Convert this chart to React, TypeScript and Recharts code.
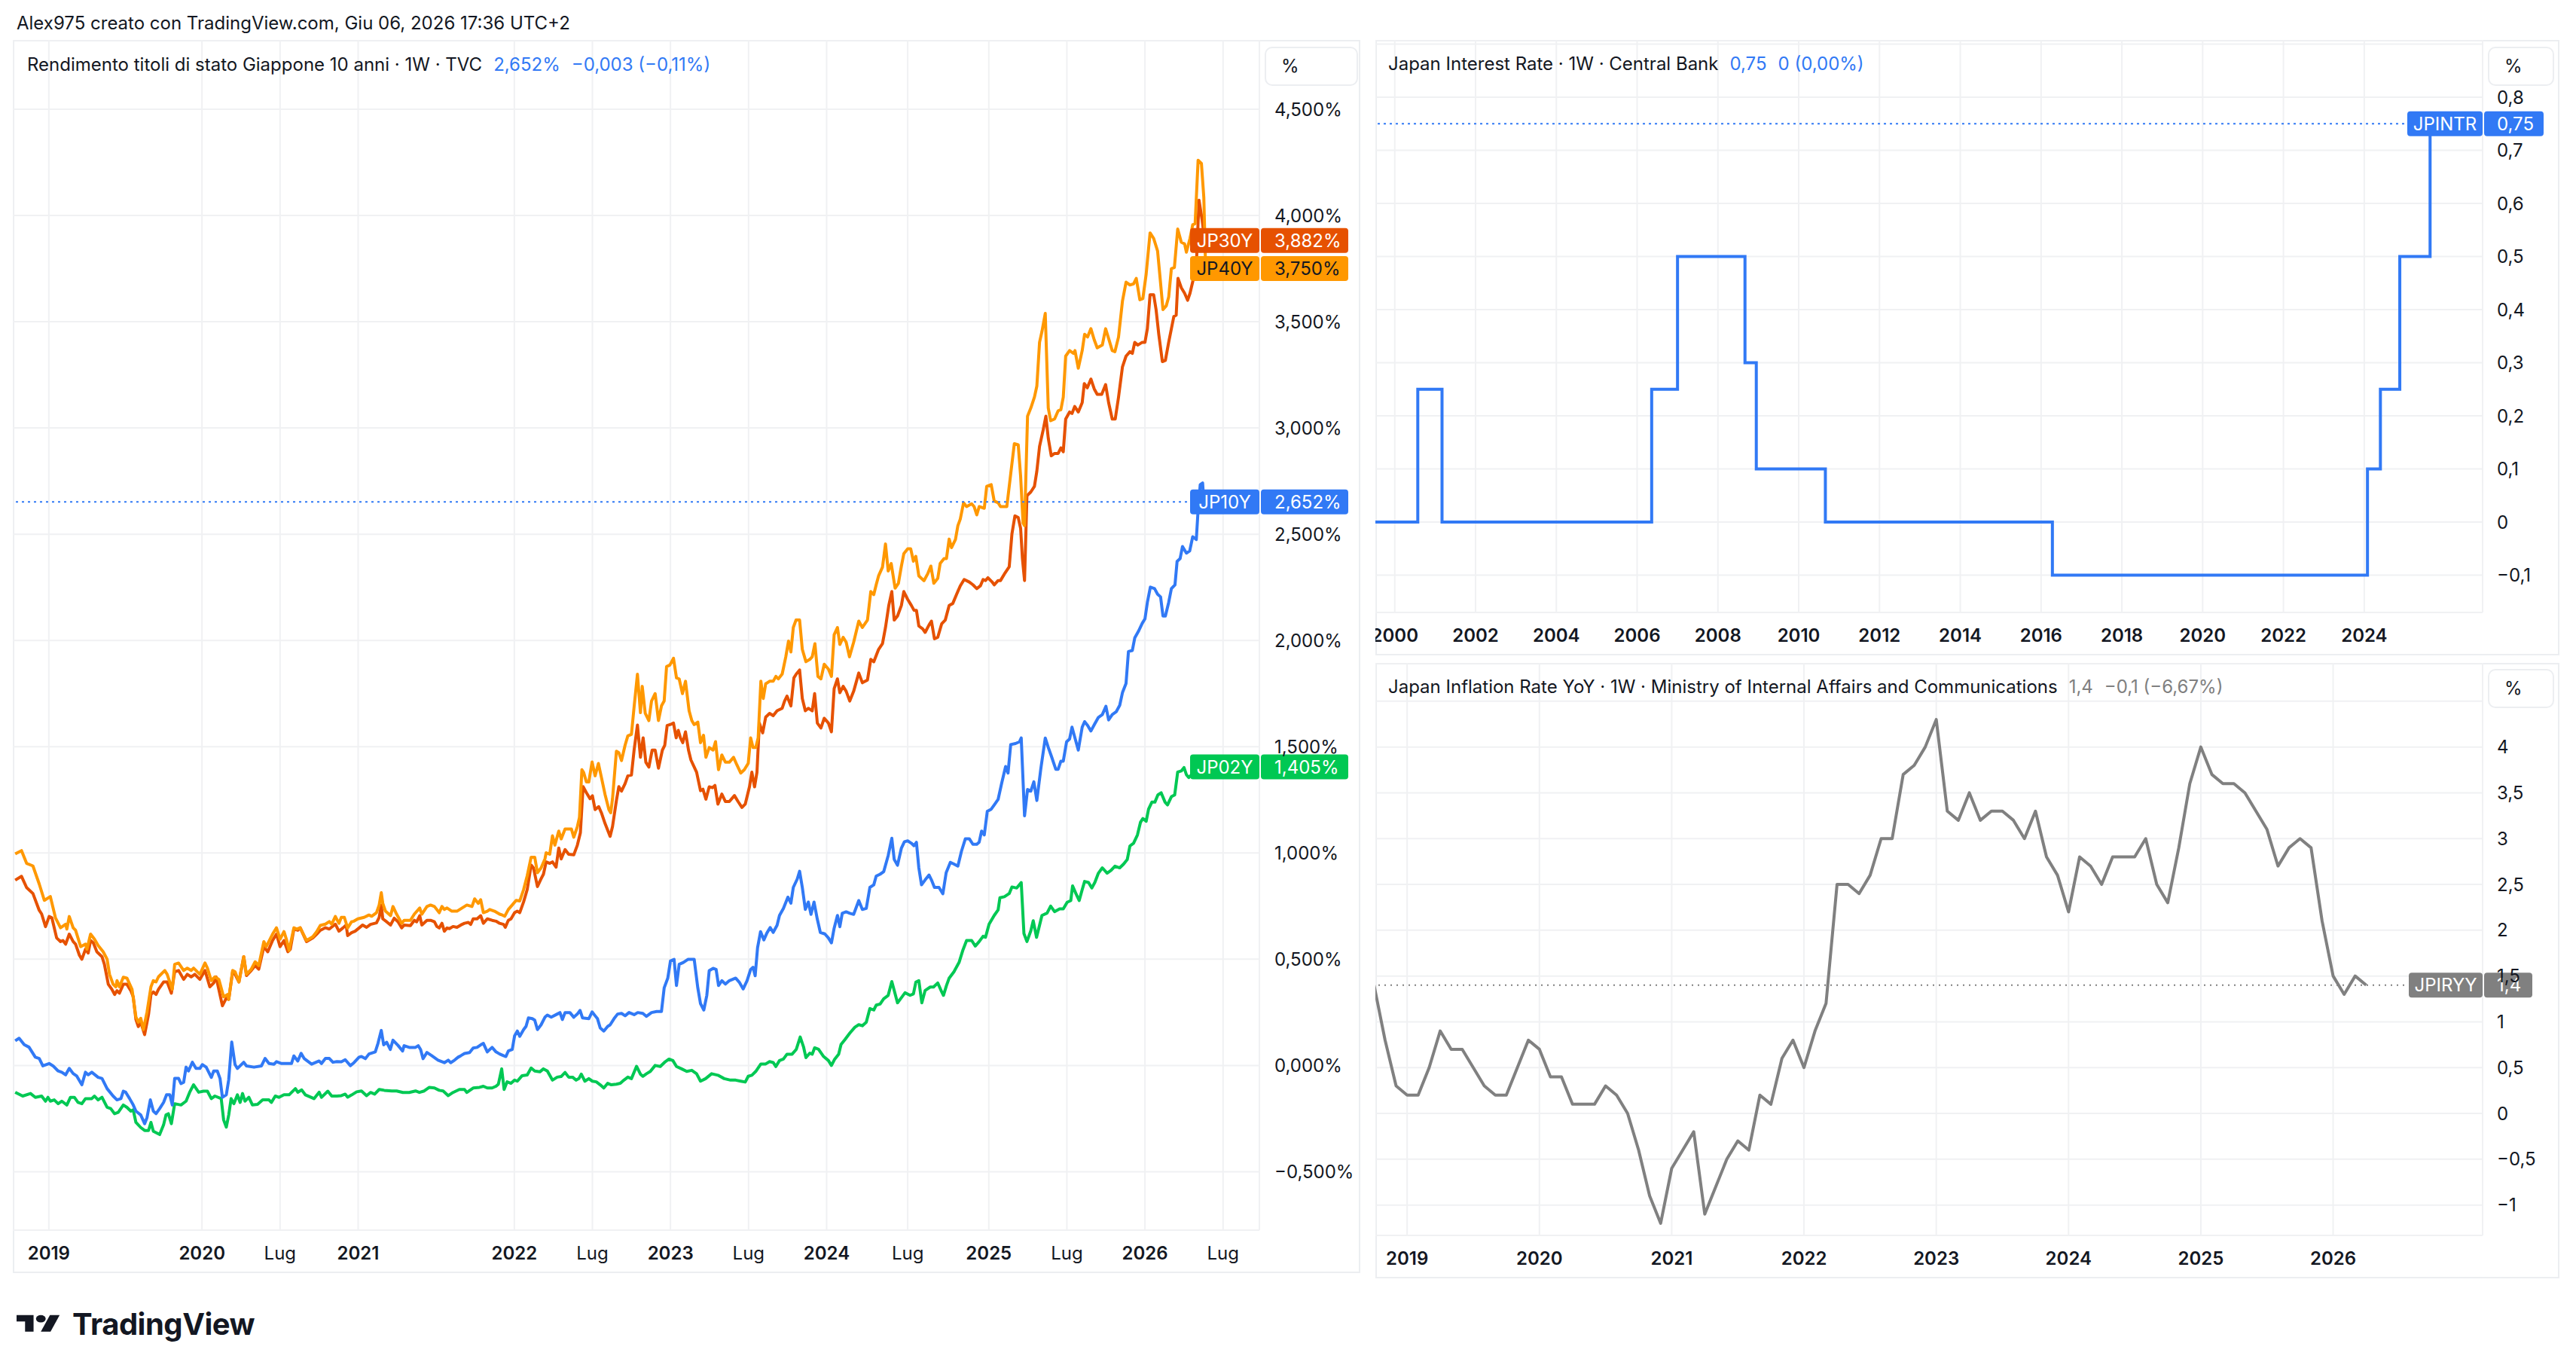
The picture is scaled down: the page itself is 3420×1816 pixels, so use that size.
import React from "react";
import { LineChart, Line, XAxis, YAxis, CartesianGrid, ReferenceLine } from "recharts";

const FONT = "Inter, 'Noto Sans', Roboto, sans-serif";
const TEXT = "#131722";
const GRID = "#f0f1f3";
const BORDER = "#eceef1";

const ORANGE = "#ff9800";
const RED = "#e65100";
const BLUE = "#3179f5";
const GREEN = "#00c853";
const GREY = "#808080";

// ---------- left pane: JGB yields, x = weekly bar index (0 = week of 8 Oct 2018)
const jp40Points: [number, number][] = [
  [0.8, 0.996], [2.9, 1.011], [4.6, 0.951], [6.7, 0.939], [8.8, 0.854], [10.5, 0.777], [12.5, 0.795], [14.2, 0.695],
  [15.9, 0.648], [17.6, 0.665], [18.0, 0.642], [18.8, 0.701], [20.1, 0.648], [20.9, 0.636], [22.6, 0.559], [24.2, 0.571],
  [24.7, 0.547], [25.9, 0.618], [27.2, 0.594], [28.4, 0.565], [30.1, 0.535], [31.4, 0.5], [32.2, 0.429], [33.4, 0.382],
  [34.3, 0.37], [34.7, 0.399], [35.5, 0.37], [36.8, 0.415], [38.0, 0.411], [39.7, 0.358], [41.0, 0.228], [41.8, 0.204],
  [42.6, 0.222], [43.5, 0.169], [44.7, 0.252], [46.0, 0.37], [46.8, 0.399], [47.7, 0.393], [48.5, 0.417], [50.6, 0.447],
  [51.4, 0.429], [53.1, 0.358], [53.9, 0.476], [55.2, 0.482], [56.9, 0.447], [58.1, 0.458], [59.4, 0.447], [60.2, 0.458],
  [62.3, 0.429], [64.0, 0.482], [64.8, 0.458], [66.1, 0.399], [67.3, 0.417], [68.6, 0.405], [70.2, 0.323], [71.5, 0.334],
  [71.9, 0.311], [73.2, 0.447], [74.0, 0.441], [75.3, 0.393], [76.9, 0.512], [77.8, 0.429], [79.4, 0.453], [80.7, 0.488],
  [81.9, 0.47], [83.6, 0.583], [84.4, 0.559], [86.5, 0.618], [87.8, 0.648], [89.0, 0.594], [90.3, 0.63], [91.1, 0.594],
  [92.0, 0.541], [93.6, 0.648], [94.5, 0.642], [95.7, 0.648], [97.8, 0.588], [99.9, 0.606], [101.2, 0.63], [102.4, 0.659],
  [104.1, 0.665], [105.4, 0.677], [106.2, 0.665], [107.4, 0.701], [108.6, 0.669], [109.4, 0.697], [110.4, 0.697], [111.5, 0.647],
  [112.8, 0.676], [113.6, 0.679], [114.9, 0.69], [117.0, 0.697], [118.6, 0.708], [119.5, 0.702], [121.1, 0.719], [122.0, 0.755],
  [122.7, 0.813], [123.2, 0.763], [124.1, 0.726], [125.8, 0.705], [126.6, 0.748], [127.8, 0.712], [129.5, 0.669], [130.3, 0.683],
  [132.4, 0.683], [133.7, 0.712], [135.5, 0.741], [136.2, 0.712], [137.9, 0.748], [139.1, 0.755], [140.4, 0.748], [142.0, 0.719],
  [142.9, 0.748], [143.7, 0.734], [144.6, 0.741], [146.2, 0.726], [147.9, 0.726], [149.6, 0.741], [151.2, 0.755], [152.9, 0.748],
  [153.8, 0.784], [155.0, 0.763], [155.8, 0.78], [156.7, 0.719], [158.0, 0.726], [158.8, 0.734], [160.4, 0.726], [162.1, 0.712],
  [163.0, 0.708], [163.8, 0.702], [165.0, 0.734], [166.3, 0.755], [167.6, 0.777], [168.8, 0.774], [170.1, 0.828], [171.3, 0.893],
  [172.6, 0.98], [173.8, 0.98], [174.7, 0.907], [175.9, 0.929], [177.2, 0.972], [177.6, 1.001], [178.8, 0.994], [179.7, 1.081],
  [180.5, 1.037], [181.8, 1.103], [182.6, 1.066], [183.9, 1.113], [186.0, 1.113], [186.8, 1.074], [188.0, 1.124], [188.7, 1.168],
  [189.5, 1.392], [190.1, 1.378], [191.0, 1.334], [191.8, 1.334], [192.9, 1.428], [193.9, 1.363], [195.0, 1.421], [196.0, 1.356],
  [197.2, 1.276], [198.5, 1.204], [199.1, 1.189], [199.7, 1.255], [201.0, 1.479], [201.8, 1.472], [202.7, 1.435], [203.9, 1.508],
  [204.8, 1.551], [206.0, 1.558], [206.9, 1.689], [208.0, 1.841], [209.0, 1.66], [209.6, 1.784], [210.6, 1.657], [211.8, 1.623],
  [212.7, 1.715], [213.9, 1.75], [215.0, 1.623], [216.0, 1.692], [216.9, 1.715], [217.7, 1.877], [218.8, 1.884], [220.0, 1.916],
  [221.0, 1.824], [221.9, 1.819], [223.0, 1.75], [224.0, 1.808], [225.2, 1.669], [226.1, 1.623], [226.9, 1.604], [228.1, 1.616],
  [229.0, 1.519], [230.0, 1.554], [230.8, 1.45], [231.9, 1.496], [233.2, 1.484], [234.0, 1.524], [235.0, 1.392], [236.1, 1.461],
  [237.3, 1.427], [238.6, 1.427], [240.0, 1.45], [241.1, 1.415], [242.4, 1.376], [243.6, 1.392], [244.9, 1.422], [245.7, 1.542],
  [246.5, 1.496], [247.4, 1.496], [248.2, 1.542], [249.1, 1.808], [249.9, 1.727], [250.7, 1.796], [252.0, 1.808], [253.2, 1.808],
  [254.1, 1.831], [254.9, 1.819], [256.2, 1.842], [257.4, 1.923], [258.3, 1.997], [259.1, 1.946], [259.9, 2.061], [260.8, 2.096],
  [262.0, 2.096], [262.9, 1.958], [264.1, 1.9], [265.4, 1.911], [266.2, 1.923], [267.1, 1.985], [268.1, 1.831], [269.1, 1.819],
  [270.2, 1.888], [271.6, 1.865], [272.6, 1.831], [273.5, 2.027], [274.6, 2.061], [275.4, 1.981], [276.5, 2.015], [277.5, 1.992],
  [278.6, 1.923], [280.0, 1.992], [281.7, 2.091], [282.9, 2.061], [284.6, 2.096], [285.7, 2.23], [286.7, 2.216], [287.5, 2.262],
  [288.3, 2.304], [289.6, 2.345], [290.6, 2.454], [291.5, 2.327], [292.5, 2.362], [293.8, 2.246], [294.9, 2.269], [295.9, 2.35],
  [296.7, 2.408], [298.0, 2.431], [299.0, 2.431], [299.9, 2.373], [300.7, 2.396], [301.7, 2.304], [303.4, 2.281], [304.7, 2.315],
  [305.7, 2.35], [306.7, 2.269], [308.0, 2.292], [308.8, 2.362], [310.1, 2.385], [310.9, 2.385], [311.8, 2.477], [312.6, 2.437],
  [313.9, 2.475], [314.7, 2.54], [315.5, 2.571], [316.6, 2.648], [317.6, 2.63], [319.3, 2.643], [320.1, 2.63], [321.0, 2.591],
  [321.8, 2.63], [323.5, 2.622], [324.3, 2.725], [325.8, 2.733], [326.8, 2.656], [328.1, 2.648], [328.9, 2.63], [331.0, 2.63],
  [332.3, 2.784], [333.5, 2.926], [334.8, 2.921], [335.6, 2.772], [336.4, 2.553], [336.9, 2.54], [337.9, 3.055], [339.0, 3.094],
  [340.2, 3.145], [341.0, 3.197], [341.9, 3.403], [342.7, 3.454], [343.8, 3.539], [344.8, 3.094], [345.6, 3.034], [346.9, 3.042],
  [348.1, 3.081], [349.0, 3.086], [349.8, 3.145], [350.6, 3.338], [351.9, 3.364], [353.2, 3.351], [353.7, 3.364], [354.8, 3.281],
  [356.1, 3.364], [356.9, 3.441], [357.9, 3.428], [359.0, 3.467], [360.1, 3.415], [361.1, 3.377], [362.8, 3.39], [363.9, 3.467],
  [364.9, 3.421], [366.1, 3.364], [367.0, 3.359], [368.2, 3.428], [369.5, 3.596], [370.7, 3.686], [372.0, 3.673], [373.2, 3.678],
  [374.1, 3.704], [375.3, 3.603], [376.3, 3.609], [377.4, 3.724], [378.7, 3.918], [379.9, 3.892], [381.2, 3.833], [382.0, 3.712],
  [383.0, 3.557], [384.1, 3.575], [384.9, 3.616], [385.8, 3.75], [386.8, 3.755], [387.9, 3.936], [389.1, 3.874], [390.2, 3.866],
  [390.8, 3.827], [392.0, 3.892], [392.9, 3.956], [393.7, 3.961], [394.7, 4.26], [395.8, 4.245], [396.6, 4.085], [397.2, 3.75],
];

const jp30Points: [number, number][] = [
  [0.8, 0.872], [2.9, 0.89], [4.6, 0.837], [6.7, 0.809], [8.8, 0.73], [9.6, 0.713], [10.9, 0.653], [12.1, 0.701],
  [13.0, 0.695], [14.6, 0.6], [15.9, 0.583], [16.7, 0.588], [17.6, 0.571], [18.8, 0.618], [20.1, 0.583], [20.9, 0.571],
  [22.2, 0.518], [23.0, 0.5], [24.2, 0.547], [25.1, 0.529], [25.9, 0.588], [26.8, 0.577], [28.0, 0.535], [29.7, 0.512],
  [30.5, 0.476], [31.8, 0.382], [33.0, 0.358], [33.9, 0.334], [34.7, 0.352], [35.5, 0.34], [36.8, 0.382], [38.0, 0.382],
  [39.3, 0.352], [40.1, 0.323], [41.0, 0.216], [41.8, 0.183], [42.6, 0.204], [43.9, 0.145], [45.2, 0.24], [46.0, 0.334],
  [46.8, 0.346], [47.7, 0.334], [48.5, 0.358], [50.2, 0.393], [51.4, 0.393], [52.8, 0.34], [53.9, 0.441], [55.2, 0.447],
  [56.9, 0.405], [58.1, 0.429], [59.4, 0.417], [60.6, 0.429], [62.3, 0.405], [64.0, 0.447], [65.6, 0.37], [66.9, 0.388],
  [67.7, 0.417], [68.6, 0.358], [69.8, 0.281], [71.1, 0.317], [71.9, 0.311], [73.2, 0.441], [74.0, 0.429], [75.3, 0.393],
  [76.9, 0.512], [77.8, 0.423], [79.4, 0.447], [80.7, 0.47], [81.9, 0.453], [83.6, 0.559], [84.9, 0.535], [86.5, 0.588],
  [87.8, 0.618], [89.0, 0.559], [90.3, 0.588], [91.6, 0.535], [92.4, 0.547], [93.6, 0.642], [94.9, 0.636], [95.7, 0.648],
  [97.8, 0.583], [99.9, 0.6], [101.2, 0.618], [102.4, 0.636], [104.1, 0.648], [105.4, 0.642], [107.4, 0.665], [108.6, 0.632],
  [109.9, 0.647], [111.0, 0.661], [111.5, 0.611], [112.8, 0.625], [114.0, 0.632], [115.3, 0.647], [116.5, 0.661], [117.8, 0.65],
  [119.1, 0.664], [121.1, 0.671], [122.0, 0.697], [122.7, 0.755], [123.2, 0.69], [124.5, 0.676], [125.8, 0.661], [127.0, 0.693],
  [128.3, 0.676], [129.5, 0.647], [130.3, 0.661], [132.4, 0.658], [133.7, 0.683], [134.5, 0.676], [135.5, 0.705], [136.2, 0.661],
  [137.9, 0.683], [139.1, 0.683], [140.4, 0.676], [141.2, 0.654], [142.0, 0.647], [142.9, 0.669], [143.7, 0.632], [144.6, 0.647],
  [145.4, 0.644], [146.6, 0.654], [147.9, 0.65], [149.2, 0.661], [150.4, 0.669], [151.7, 0.673], [152.5, 0.664], [153.3, 0.69],
  [154.6, 0.69], [155.8, 0.705], [156.7, 0.669], [158.0, 0.69], [159.6, 0.683], [160.9, 0.679], [162.1, 0.669], [163.4, 0.664],
  [164.0, 0.65], [165.0, 0.683], [165.9, 0.69], [167.1, 0.719], [168.0, 0.726], [168.8, 0.719], [170.1, 0.77], [171.3, 0.828],
  [172.6, 0.943], [173.4, 0.929], [174.7, 0.842], [175.9, 0.878], [176.7, 0.9], [177.6, 0.958], [178.8, 0.951], [179.7, 0.958],
  [180.9, 0.933], [181.8, 1.023], [182.6, 0.972], [183.9, 1.016], [185.1, 0.994], [186.8, 0.991], [188.0, 1.037], [189.0, 1.095],
  [189.9, 1.312], [191.0, 1.284], [192.2, 1.255], [193.0, 1.269], [193.9, 1.204], [195.1, 1.218], [196.0, 1.189], [197.2, 1.139],
  [198.9, 1.078], [199.7, 1.124], [201.0, 1.247], [201.8, 1.312], [202.7, 1.291], [203.9, 1.327], [204.8, 1.363], [206.0, 1.367],
  [206.9, 1.486], [208.0, 1.602], [209.0, 1.45], [209.9, 1.542], [210.8, 1.427], [211.8, 1.404], [212.9, 1.484], [213.9, 1.484],
  [215.0, 1.399], [216.3, 1.484], [217.1, 1.507], [217.9, 1.6], [219.4, 1.607], [220.0, 1.611], [220.9, 1.542], [221.6, 1.577],
  [222.3, 1.542], [223.1, 1.519], [224.0, 1.57], [225.0, 1.484], [225.8, 1.438], [227.7, 1.38], [229.0, 1.293], [229.8, 1.3],
  [230.8, 1.253], [231.9, 1.311], [233.0, 1.307], [233.8, 1.318], [234.8, 1.23], [236.1, 1.277], [237.3, 1.242], [238.6, 1.242],
  [240.3, 1.27], [241.5, 1.242], [242.8, 1.214], [243.9, 1.23], [245.3, 1.311], [246.1, 1.38], [247.0, 1.311], [247.8, 1.38],
  [248.6, 1.611], [249.7, 1.565], [250.7, 1.639], [252.0, 1.657], [253.2, 1.646], [254.5, 1.669], [256.2, 1.681], [257.0, 1.715],
  [257.8, 1.738], [259.1, 1.692], [260.1, 1.824], [260.9, 1.842], [262.0, 1.861], [262.9, 1.727], [263.9, 1.669], [264.9, 1.681],
  [266.2, 1.669], [267.0, 1.75], [267.9, 1.611], [269.1, 1.588], [270.2, 1.634], [271.6, 1.611], [272.6, 1.57], [273.5, 1.773],
  [274.6, 1.819], [275.4, 1.754], [276.5, 1.784], [277.5, 1.761], [278.7, 1.715], [280.0, 1.761], [281.7, 1.847], [282.9, 1.801],
  [284.6, 1.814], [285.7, 1.911], [286.7, 1.9], [288.3, 1.958], [289.6, 1.985], [290.6, 2.061], [291.7, 2.165], [292.7, 2.23],
  [293.5, 2.096], [294.6, 2.115], [295.9, 2.165], [296.7, 2.23], [298.0, 2.193], [299.2, 2.165], [300.1, 2.142], [300.9, 2.142],
  [301.7, 2.068], [303.0, 2.054], [303.8, 2.038], [305.1, 2.073], [305.9, 2.091], [306.9, 2.008], [308.0, 2.015], [309.3, 2.078],
  [310.5, 2.096], [311.8, 2.165], [313.0, 2.174], [314.3, 2.218], [315.5, 2.257], [316.8, 2.287], [318.5, 2.275], [319.7, 2.262],
  [321.0, 2.244], [322.2, 2.257], [323.1, 2.287], [323.9, 2.282], [324.7, 2.295], [326.0, 2.277], [326.8, 2.262], [328.1, 2.282],
  [328.9, 2.282], [330.2, 2.313], [331.8, 2.347], [332.7, 2.501], [333.7, 2.586], [334.8, 2.578], [335.6, 2.527], [336.2, 2.385],
  [336.9, 2.282], [337.7, 2.681], [339.0, 2.699], [340.2, 2.725], [341.0, 2.797], [341.9, 2.913], [343.1, 2.99], [344.0, 3.055],
  [344.8, 2.952], [345.8, 2.869], [346.9, 2.88], [348.1, 2.88], [349.0, 2.906], [349.8, 2.888], [350.6, 3.042], [351.9, 3.075],
  [352.7, 3.068], [353.6, 3.101], [354.8, 3.075], [356.1, 3.119], [356.8, 3.209], [357.8, 3.189], [359.0, 3.23], [360.1, 3.184],
  [361.1, 3.158], [362.6, 3.158], [363.9, 3.204], [364.9, 3.119], [366.1, 3.042], [367.1, 3.042], [368.2, 3.145], [369.5, 3.287],
  [370.7, 3.338], [372.0, 3.359], [372.8, 3.351], [373.6, 3.403], [374.6, 3.39], [376.1, 3.403], [377.0, 3.403], [377.8, 3.467],
  [378.7, 3.627], [379.9, 3.627], [380.7, 3.557], [381.6, 3.441], [382.8, 3.312], [383.8, 3.318], [384.9, 3.403], [385.8, 3.467],
  [386.6, 3.524], [387.4, 3.531], [388.0, 3.704], [389.1, 3.66], [390.2, 3.634], [391.2, 3.601], [392.0, 3.634], [393.3, 3.712],
  [394.1, 3.763], [395.0, 4.072], [396.0, 3.982], [396.9, 3.882],
];

const jp10Points: [number, number][] = [
  [0.8, 0.116], [2.1, 0.128], [3.8, 0.098], [5.4, 0.086], [7.5, 0.039], [8.8, 0.033], [10.0, -0.002], [12.1, 0.009],
  [13.4, -0.002], [15.1, -0.026], [16.3, -0.032], [17.6, -0.044], [18.8, -0.014], [20.1, -0.038], [21.3, -0.05], [23.0, -0.091],
  [24.2, -0.032], [25.1, -0.044], [26.3, -0.032], [28.4, -0.056], [29.7, -0.061], [31.4, -0.109], [33.4, -0.144], [34.7, -0.162],
  [36.0, -0.156], [36.8, -0.121], [37.6, -0.126], [38.9, -0.156], [40.1, -0.186], [41.0, -0.215], [42.6, -0.233], [43.9, -0.274],
  [44.7, -0.245], [45.8, -0.162], [46.8, -0.215], [47.7, -0.227], [48.9, -0.203], [50.2, -0.174], [51.2, -0.138], [52.3, -0.138],
  [53.1, -0.186], [53.9, -0.061], [55.2, -0.061], [56.0, -0.085], [56.9, -0.079], [57.7, -0.008], [58.5, -0.026], [59.8, 0.015],
  [61.0, -0.014], [62.3, -0.014], [63.1, 0.004], [64.4, -0.008], [66.1, -0.056], [66.9, -0.026], [68.1, -0.026], [69.0, -0.061],
  [69.8, -0.15], [71.1, -0.138], [71.9, -0.067], [72.9, 0.11], [74.0, 0.004], [74.8, -0.014], [76.9, 0.015], [77.8, -0.002],
  [80.3, -0.008], [82.8, -0.002], [84.0, 0.033], [85.3, 0.009], [87.0, 0.006], [87.8, 0.018], [89.5, 0.009], [92.8, 0.009],
  [93.6, 0.045], [94.9, 0.021], [96.0, 0.057], [97.0, 0.033], [99.5, 0.006], [102.0, 0.021], [102.8, 0.009], [104.1, 0.033],
  [105.4, 0.033], [106.6, 0.015], [107.9, 0.018], [109.4, 0.017], [110.7, 0.027], [112.4, -0.001], [113.6, 0.013], [115.3, 0.039],
  [116.1, 0.042], [117.4, 0.032], [118.6, 0.054], [120.7, 0.064], [121.6, 0.104], [122.7, 0.165], [123.5, 0.097], [124.5, 0.109],
  [125.7, 0.075], [126.6, 0.119], [128.3, 0.094], [129.8, 0.068], [130.3, 0.093], [132.0, 0.085], [134.1, 0.085], [135.0, 0.093],
  [135.8, 0.075], [136.6, 0.032], [137.9, 0.061], [139.5, 0.046], [141.6, 0.025], [143.7, 0.013], [145.0, 0.025], [145.8, 0.013],
  [147.1, 0.025], [148.3, 0.039], [149.2, 0.046], [150.4, 0.056], [152.1, 0.061], [153.3, 0.082], [154.6, 0.085], [155.8, 0.097],
  [156.7, 0.104], [158.0, 0.064], [159.6, 0.085], [160.9, 0.064], [162.1, 0.054], [163.4, 0.046], [164.2, 0.042], [165.0, 0.068],
  [166.3, 0.075], [167.1, 0.14], [168.0, 0.162], [168.8, 0.137], [170.1, 0.169], [170.9, 0.184], [171.7, 0.224], [173.0, 0.22],
  [173.8, 0.213], [174.7, 0.169], [175.9, 0.191], [177.2, 0.227], [178.0, 0.237], [179.3, 0.227], [181.3, 0.242], [182.2, 0.249],
  [183.0, 0.216], [183.9, 0.249], [185.5, 0.249], [186.8, 0.227], [188.0, 0.242], [188.9, 0.259], [189.7, 0.224], [191.8, 0.22],
  [192.9, 0.252], [193.9, 0.234], [194.7, 0.22], [195.6, 0.177], [196.8, 0.162], [198.1, 0.184], [198.9, 0.191], [200.2, 0.22],
  [201.4, 0.242], [202.7, 0.245], [203.9, 0.234], [205.2, 0.249], [206.9, 0.239], [208.1, 0.249], [209.8, 0.245], [211.0, 0.231],
  [212.7, 0.249], [214.4, 0.254], [216.0, 0.254], [216.9, 0.365], [218.1, 0.411], [219.0, 0.492], [220.2, 0.499], [221.0, 0.376],
  [221.9, 0.476], [223.3, 0.485], [224.8, 0.499], [226.9, 0.499], [228.1, 0.365], [229.0, 0.291], [230.1, 0.261], [231.1, 0.33],
  [231.9, 0.446], [233.2, 0.457], [234.2, 0.452], [235.0, 0.376], [236.1, 0.399], [237.3, 0.383], [238.6, 0.399], [240.7, 0.411],
  [241.9, 0.392], [243.2, 0.36], [244.5, 0.399], [245.7, 0.452], [246.5, 0.462], [247.2, 0.422], [248.0, 0.554], [249.0, 0.63],
  [250.1, 0.591], [251.1, 0.623], [252.2, 0.649], [253.2, 0.626], [254.5, 0.66], [255.3, 0.706], [256.6, 0.739], [258.1, 0.792],
  [259.1, 0.764], [259.9, 0.838], [261.2, 0.877], [262.0, 0.914], [262.9, 0.838], [263.9, 0.734], [264.9, 0.769], [265.8, 0.711],
  [266.8, 0.769], [267.9, 0.688], [268.9, 0.626], [270.4, 0.619], [271.6, 0.6], [272.6, 0.577], [273.5, 0.646], [274.6, 0.706],
  [275.4, 0.653], [276.2, 0.716], [277.5, 0.723], [278.7, 0.716], [280.0, 0.711], [281.7, 0.776], [282.9, 0.734], [284.2, 0.739],
  [285.4, 0.838], [286.7, 0.85], [287.5, 0.891], [288.8, 0.9], [290.0, 0.912], [291.5, 0.988], [292.7, 1.069], [293.5, 0.97],
  [294.6, 0.942], [295.9, 1.023], [296.9, 1.053], [298.0, 1.057], [299.2, 1.046], [300.1, 1.034], [300.9, 1.05], [301.7, 0.93],
  [302.6, 0.85], [303.8, 0.873], [305.1, 0.896], [305.9, 0.873], [306.9, 0.838], [308.4, 0.838], [309.7, 0.808], [310.8, 0.907],
  [311.8, 0.942], [312.2, 0.956], [313.4, 0.948], [314.7, 0.938], [315.9, 1.008], [317.2, 1.067], [318.5, 1.067], [319.7, 1.041],
  [321.0, 1.041], [321.8, 1.051], [322.6, 1.103], [323.5, 1.085], [324.5, 1.196], [325.8, 1.206], [326.8, 1.226], [328.1, 1.252],
  [329.3, 1.329], [330.6, 1.407], [331.4, 1.376], [332.3, 1.51], [333.9, 1.515], [335.2, 1.523], [335.8, 1.541], [336.9, 1.175],
  [337.9, 1.299], [339.0, 1.291], [340.0, 1.335], [341.0, 1.247], [342.3, 1.394], [343.8, 1.541], [344.8, 1.497], [345.9, 1.453],
  [347.3, 1.394], [348.1, 1.394], [349.0, 1.432], [349.8, 1.432], [350.9, 1.523], [351.9, 1.536], [352.7, 1.592], [353.7, 1.541],
  [354.8, 1.484], [356.1, 1.592], [356.9, 1.618], [357.9, 1.6], [359.0, 1.574], [360.3, 1.608], [361.5, 1.638], [362.8, 1.651],
  [364.0, 1.69], [364.9, 1.626], [366.1, 1.651], [367.4, 1.664], [368.6, 1.695], [369.5, 1.754], [370.7, 1.798], [371.5, 1.948],
  [372.8, 1.953], [373.6, 2.012], [374.9, 2.045], [376.1, 2.081], [377.0, 2.102], [377.8, 2.179], [378.8, 2.251], [380.2, 2.244],
  [381.2, 2.218], [382.2, 2.205], [383.0, 2.115], [383.8, 2.115], [384.9, 2.179], [385.8, 2.244], [387.0, 2.262], [387.7, 2.372],
  [388.7, 2.385], [389.5, 2.442], [390.8, 2.411], [391.9, 2.421], [392.9, 2.488], [394.1, 2.475], [394.6, 2.591], [395.4, 2.733],
  [396.2, 2.741], [396.6, 2.652],
];

const jp02Points: [number, number][] = [
  [0.8, -0.126], [3.3, -0.144], [5.9, -0.132], [7.5, -0.15], [9.6, -0.144], [10.9, -0.168], [11.7, -0.15], [12.5, -0.168],
  [13.8, -0.162], [15.1, -0.18], [16.3, -0.168], [18.0, -0.186], [19.2, -0.15], [20.5, -0.15], [21.7, -0.174], [23.0, -0.18],
  [24.2, -0.156], [26.3, -0.156], [27.2, -0.144], [28.4, -0.162], [29.7, -0.15], [31.4, -0.197], [32.6, -0.203], [33.9, -0.227],
  [35.1, -0.221], [36.8, -0.186], [38.0, -0.197], [39.3, -0.215], [40.1, -0.209], [41.0, -0.268], [42.6, -0.292], [43.9, -0.306],
  [45.2, -0.306], [46.0, -0.268], [46.8, -0.31], [48.9, -0.325], [50.2, -0.28], [51.0, -0.233], [51.8, -0.227], [52.8, -0.274],
  [53.9, -0.18], [56.0, -0.186], [57.7, -0.168], [58.9, -0.126], [60.2, -0.091], [61.9, -0.126], [63.5, -0.121], [64.8, -0.121],
  [66.1, -0.156], [67.3, -0.144], [69.4, -0.156], [70.2, -0.256], [71.1, -0.29], [71.9, -0.233], [72.7, -0.156], [73.6, -0.18],
  [74.8, -0.138], [75.7, -0.174], [76.5, -0.132], [77.3, -0.168], [78.6, -0.15], [79.8, -0.186], [81.5, -0.183], [83.2, -0.162],
  [85.3, -0.162], [86.1, -0.174], [87.4, -0.144], [88.6, -0.15], [90.3, -0.138], [92.0, -0.138], [94.1, -0.109], [94.9, -0.126],
  [96.2, -0.115], [97.4, -0.138], [100.3, -0.156], [102.0, -0.126], [102.8, -0.15], [104.9, -0.121], [106.2, -0.144], [107.9, -0.144],
  [109.4, -0.142], [110.7, -0.135], [111.5, -0.149], [112.8, -0.139], [114.5, -0.124], [116.1, -0.12], [117.8, -0.142], [119.1, -0.127],
  [120.5, -0.135], [122.0, -0.113], [123.7, -0.117], [126.2, -0.12], [127.8, -0.12], [129.9, -0.127], [132.0, -0.127], [134.1, -0.12],
  [135.4, -0.127], [137.0, -0.12], [138.7, -0.103], [140.4, -0.106], [142.0, -0.117], [143.3, -0.12], [145.0, -0.142], [146.6, -0.127],
  [148.7, -0.113], [150.4, -0.113], [151.2, -0.127], [153.3, -0.106], [155.4, -0.103], [156.7, -0.098], [158.0, -0.106], [159.6, -0.106],
  [160.9, -0.098], [161.7, -0.088], [162.8, -0.016], [163.6, -0.113], [164.6, -0.077], [165.9, -0.084], [167.1, -0.069], [168.0, -0.074],
  [169.6, -0.048], [171.3, -0.045], [172.6, -0.012], [173.8, -0.026], [175.5, -0.03], [176.7, -0.016], [178.0, -0.026], [179.7, -0.069],
  [181.3, -0.055], [182.6, -0.052], [183.9, -0.033], [185.1, -0.055], [186.4, -0.055], [187.6, -0.069], [188.5, -0.062], [189.3, -0.041],
  [190.5, -0.074], [191.8, -0.062], [193.0, -0.074], [194.3, -0.077], [195.6, -0.091], [196.8, -0.106], [198.1, -0.084], [199.3, -0.091],
  [201.0, -0.088], [202.3, -0.084], [203.5, -0.069], [204.8, -0.055], [206.0, -0.062], [207.7, -0.004], [209.0, -0.041], [209.8, -0.051],
  [211.0, -0.039], [212.3, -0.028], [213.9, 0.0], [215.6, -0.005], [217.3, 0.018], [218.5, 0.03], [219.8, 0.023], [221.0, -0.005],
  [222.7, -0.016], [224.4, -0.028], [226.1, -0.023], [227.7, -0.039], [229.0, -0.074], [230.7, -0.062], [232.7, -0.039], [234.8, -0.046],
  [236.9, -0.062], [239.0, -0.069], [240.7, -0.069], [242.4, -0.074], [243.9, -0.078], [244.9, -0.051], [246.1, -0.046], [247.4, -0.028],
  [249.1, 0.007], [250.7, 0.007], [252.0, 0.018], [253.2, 0.014], [254.1, -0.005], [255.3, 0.023], [256.6, 0.03], [257.8, 0.053],
  [259.5, 0.053], [260.9, 0.076], [262.2, 0.134], [263.3, 0.088], [264.1, 0.037], [265.4, 0.058], [266.2, 0.053], [267.0, 0.083],
  [268.3, 0.076], [270.0, 0.042], [271.6, 0.023], [272.6, 0.0], [273.7, 0.03], [275.0, 0.053], [275.8, 0.099], [277.1, 0.122],
  [278.7, 0.152], [280.4, 0.18], [281.7, 0.192], [282.9, 0.187], [284.2, 0.203], [285.4, 0.268], [286.7, 0.261], [287.5, 0.284],
  [288.8, 0.289], [290.0, 0.314], [291.5, 0.33], [292.7, 0.395], [293.5, 0.353], [294.6, 0.295], [295.9, 0.319], [297.1, 0.342],
  [298.8, 0.33], [299.9, 0.337], [300.7, 0.392], [301.7, 0.399], [302.7, 0.295], [303.8, 0.353], [305.5, 0.369], [306.6, 0.369],
  [308.0, 0.388], [309.1, 0.353], [309.9, 0.33], [310.9, 0.376], [311.8, 0.411], [313.4, 0.441], [315.1, 0.485], [316.4, 0.544],
  [317.6, 0.588], [319.3, 0.588], [320.5, 0.562], [321.8, 0.583], [323.1, 0.608], [323.9, 0.603], [325.1, 0.665], [326.8, 0.706],
  [328.1, 0.732], [328.7, 0.789], [330.2, 0.794], [331.8, 0.809], [332.7, 0.84], [334.3, 0.835], [335.8, 0.861], [336.7, 0.621],
  [337.7, 0.583], [339.0, 0.634], [339.8, 0.681], [340.9, 0.603], [341.9, 0.66], [342.7, 0.706], [344.4, 0.717], [345.6, 0.75],
  [346.9, 0.724], [348.6, 0.737], [349.8, 0.737], [351.1, 0.768], [352.3, 0.776], [352.9, 0.845], [354.0, 0.809], [355.1, 0.776],
  [356.1, 0.827], [356.9, 0.866], [358.2, 0.861], [359.3, 0.835], [360.3, 0.861], [361.5, 0.905], [362.8, 0.93], [364.4, 0.905],
  [365.7, 0.918], [367.0, 0.938], [368.6, 0.93], [369.9, 0.948], [371.1, 0.969], [372.0, 1.033], [373.2, 1.046], [374.5, 1.085],
  [375.5, 1.144], [376.3, 1.162], [377.4, 1.149], [378.2, 1.206], [379.3, 1.239], [380.3, 1.239], [381.3, 1.273], [382.4, 1.283],
  [383.7, 1.239], [384.5, 1.226], [385.8, 1.265], [386.9, 1.273], [387.9, 1.381], [389.1, 1.386], [390.0, 1.402], [390.8, 1.368],
  [391.6, 1.355], [392.5, 1.368], [393.7, 1.361], [395.0, 1.392], [396.2, 1.405],
];

const yieldTickWeeks = [12, 63, 89, 115, 167, 193, 219, 245, 271, 298, 325, 351, 377, 403];
const yieldTickLabels = ["2019", "2020", "Lug", "2021", "2022", "Lug", "2023", "Lug", "2024", "Lug", "2025", "Lug", "2026", "Lug"];
const yieldAxisTicks = [-0.5, 0, 0.5, 1, 1.5, 2, 2.5, 3, 3.5, 4, 4.5];

// ---------- top right: BoJ policy rate, x = decimal year
const ratePoints: [number, number][] = [
  [1999.52, 0], [2000.57, 0.25], [2001.17, 0], [2006.36, 0.25], [2007.0, 0.5], [2008.67, 0.3], [2008.95, 0.1],
  [2010.66, 0], [2016.28, -0.1], [2024.08, 0.1], [2024.4, 0.25], [2024.88, 0.5], [2025.63, 0.75],
];
const rateTickYears = [2000, 2002, 2004, 2006, 2008, 2010, 2012, 2014, 2016, 2018, 2020, 2022, 2024];
const rateAxisTicks = [-0.1, 0, 0.1, 0.2, 0.3, 0.4, 0.5, 0.6, 0.7, 0.8, 0.9];

// ---------- bottom right: CPI YoY, monthly from Oct 2018
const cpiFirstMonth = { year: 2018, month: 10 };
const cpiValues = [
  1.4, 0.8, 0.3,
  0.2, 0.2, 0.5, 0.9, 0.7, 0.7, 0.5, 0.3, 0.2, 0.2, 0.5, 0.8,
  0.7, 0.4, 0.4, 0.1, 0.1, 0.1, 0.3, 0.2, 0.0, -0.4, -0.9, -1.2,
  -0.6, -0.4, -0.2, -1.1, -0.8, -0.5, -0.3, -0.4, 0.2, 0.1, 0.6, 0.8,
  0.5, 0.9, 1.2, 2.5, 2.5, 2.4, 2.6, 3.0, 3.0, 3.7, 3.8, 4.0,
  4.3, 3.3, 3.2, 3.5, 3.2, 3.3, 3.3, 3.2, 3.0, 3.3, 2.8, 2.6,
  2.2, 2.8, 2.7, 2.5, 2.8, 2.8, 2.8, 3.0, 2.5, 2.3, 2.9, 3.6,
  4.0, 3.7, 3.6, 3.6, 3.5, 3.3, 3.1, 2.7, 2.9, 3.0, 2.9, 2.1,
  1.5, 1.3, 1.5, 1.4,
];
const cpiTickYears = [2019, 2020, 2021, 2022, 2023, 2024, 2025, 2026];
const cpiAxisTicks = [-1, -0.5, 0, 0.5, 1, 1.5, 2, 2.5, 3, 3.5, 4, 4.5];

const toRows = (pts: [number, number][]) => pts.map(([x, v]) => ({ x, v }));
const cpiRows = cpiValues.map((v, i) => ({
  x: cpiFirstMonth.year + (cpiFirstMonth.month - 1 + i) / 12,
  v,
}));

const comma = (v: number, digits: number) => {
  const s = Math.abs(v).toFixed(digits).replace(".", ",");
  return (v < 0 ? "\u2212" : "") + s;
};
const fmtYield = (v: number) => comma(v, 3) + "%";
const fmtShort = (v: number) => {
  if (Math.abs(v) < 1e-9) return "0";
  const r = Math.round(v * 10) / 10;
  const digits = Math.abs(r - Math.round(r)) < 1e-9 ? 0 : 1;
  return comma(r, digits);
};
// the top gridline of each right pane sits under the "%" box, its label is not drawn
const fmtRate = (v: number) => (v > 0.85 ? "" : fmtShort(v));
const fmtCpi = (v: number) => (v > 4.2 ? "" : fmtShort(v));

function TimeTick(props: any) {
  const { x, y, payload, labelOf } = props;
  const label = labelOf(payload.value);
  return (
    <text x={x} y={y} dy={39} textAnchor="middle" fontFamily={FONT} fontSize={24}
      fontWeight={label === "Lug" ? 400 : 600} fill={TEXT}>
      {label}
    </text>
  );
}

function PriceTick(props: any) {
  const { x, y, payload, fmt } = props;
  const label = fmt(payload.value);
  if (!label) return null;
  return (
    <text x={x} y={y} dy="0.36em" textAnchor="start" fontFamily={FONT} fontSize={24} fill={TEXT}>
      {label}
    </text>
  );
}

function PriceBadge(props: any) {
  const { viewBox, name, value, bg, fg, nameW, valueW, gap } = props;
  if (!viewBox) return null;
  const right = viewBox.x + viewBox.width;
  const cy = viewBox.y;
  const h = 33;
  return (
    <g>
      <rect x={right - nameW} y={cy - h / 2} width={nameW} height={h} rx={4} fill={bg} />
      <rect x={right + 2} y={cy - h / 2} width={valueW} height={h} rx={4} fill={bg} />
      <text x={right - nameW / 2} y={cy} dy="0.36em" textAnchor="middle" fontFamily={FONT} fontSize={24} fill={fg}>
        {name}
      </text>
      <text x={right + gap} y={cy} dy="0.36em" textAnchor="start" fontFamily={FONT} fontSize={24} fill={fg}>
        {value}
      </text>
    </g>
  );
}

function Legend({ left, top, title, values, color }: { left: number; top: number; title: string; values: string[]; color: string }) {
  return (
    <div style={{ position: "absolute", left, top, fontFamily: FONT, fontSize: 24, lineHeight: "28px", color: TEXT, whiteSpace: "nowrap" }}>
      {title}
      {values.map((v, i) => (
        <span key={i} style={{ color, marginLeft: 15 }}>{v}</span>
      ))}
    </div>
  );
}

function UnitBox({ left, top, width, height }: { left: number; top: number; width: number; height: number }) {
  return (
    <div style={{
      position: "absolute", left, top, width, height, boxSizing: "border-box", border: `2px solid ${BORDER}`,
      borderRadius: 10, background: "#fff", fontFamily: FONT, fontSize: 24, color: TEXT, lineHeight: `${height - 4}px`,
      paddingLeft: 20,
    }}>%</div>
  );
}

function Panel({ left, top, width, height }: { left: number; top: number; width: number; height: number }) {
  return (
    <div style={{ position: "absolute", left, top, width, height, boxSizing: "border-box", border: `2px solid ${BORDER}` }} />
  );
}

export default function App() {
  const yieldLabel = (w: number) => yieldTickLabels[yieldTickWeeks.indexOf(w)] ?? "";
  const yearLabel = (y: number) => String(Math.round(y));

  return (
    <div style={{ position: "absolute", left: 0, top: 0, width: 3420, height: 1816, background: "#fff", overflow: "hidden" }}>
      <div style={{ position: "absolute", left: 22, top: 17, fontFamily: FONT, fontSize: 24, lineHeight: "28px", color: TEXT, whiteSpace: "nowrap" }}>
        Alex975 creato con TradingView.com, Giu 06, 2026 17:36 UTC+2
      </div>

      <Panel left={17} top={53} width={1789} height={1637} />
      <Panel left={1826} top={53} width={1572} height={817} />
      <Panel left={1826} top={880} width={1572} height={817} />

      {/* left pane */}
      <div style={{ position: "absolute", left: 17, top: 53 }}>
        <LineChart width={1789} height={1636} margin={{ top: 0, right: 0, bottom: 0, left: 0 }}>
          <CartesianGrid stroke={GRID} strokeWidth={2} />
          <XAxis dataKey="x" type="number" domain={[0, 415.1]} allowDataOverflow ticks={yieldTickWeeks} interval={0}
            height={56} axisLine={false} tickLine={false} tickSize={0} tickMargin={0}
            tick={(p: any) => <TimeTick {...p} labelOf={yieldLabel} />} />
          <YAxis orientation="right" type="number" domain={[-0.775, 4.826]} allowDataOverflow ticks={yieldAxisTicks}
            interval={0} width={134} axisLine={false} tickLine={false} tickSize={0} tickMargin={20}
            tick={(p: any) => <PriceTick {...p} fmt={fmtYield} />} />
          <Line data={toRows(jp30Points)} dataKey="v" type="linear" stroke={RED} strokeWidth={4} dot={false} activeDot={false}
            strokeLinejoin="round" isAnimationActive={false} />
          <Line data={toRows(jp40Points)} dataKey="v" type="linear" stroke={ORANGE} strokeWidth={4} dot={false} activeDot={false}
            strokeLinejoin="round" isAnimationActive={false} />
          <Line data={toRows(jp02Points)} dataKey="v" type="linear" stroke={GREEN} strokeWidth={4} dot={false} activeDot={false}
            strokeLinejoin="round" isAnimationActive={false} />
          <Line data={toRows(jp10Points)} dataKey="v" type="linear" stroke={BLUE} strokeWidth={4} dot={false} activeDot={false}
            strokeLinejoin="round" isAnimationActive={false} />
          <ReferenceLine y={2.652} stroke={BLUE} strokeWidth={2} strokeDasharray="3 5"
            label={<PriceBadge name="JP10Y" value={fmtYield(2.652)} bg={BLUE} fg="#fff" nameW={92} valueW={116} gap={20} />} />
          <ReferenceLine y={3.882} stroke="transparent"
            label={<PriceBadge name="JP30Y" value={fmtYield(3.882)} bg={RED} fg="#fff" nameW={92} valueW={116} gap={20} />} />
          <ReferenceLine y={3.75} stroke="transparent"
            label={<PriceBadge name="JP40Y" value={fmtYield(3.75)} bg={ORANGE} fg={TEXT} nameW={92} valueW={116} gap={20} />} />
          <ReferenceLine y={1.405} stroke="transparent"
            label={<PriceBadge name="JP02Y" value={fmtYield(1.405)} bg={GREEN} fg="#fff" nameW={92} valueW={116} gap={20} />} />
        </LineChart>
      </div>

      {/* top right pane */}
      <div style={{ position: "absolute", left: 1826, top: 53 }}>
        <LineChart width={1572} height={816} margin={{ top: 0, right: 0, bottom: 0, left: 0 }}>
          <CartesianGrid stroke={GRID} strokeWidth={2} />
          <XAxis dataKey="x" type="number" domain={[1999.52, 2026.93]} allowDataOverflow ticks={rateTickYears} interval={0}
            height={56} axisLine={false} tickLine={false} tickSize={0} tickMargin={0}
            tick={(p: any) => <TimeTick {...p} labelOf={yearLabel} />} />
          <YAxis orientation="right" type="number" domain={[-0.1702, 0.9078]} allowDataOverflow ticks={rateAxisTicks}
            interval={0} width={102} axisLine={false} tickLine={false} tickSize={0} tickMargin={19}
            tick={(p: any) => <PriceTick {...p} fmt={fmtRate} />} />
          <Line data={toRows(ratePoints)} dataKey="v" type="stepAfter" stroke={BLUE} strokeWidth={4} dot={false} activeDot={false}
            isAnimationActive={false} />
          <ReferenceLine y={0.75} stroke={BLUE} strokeWidth={2} strokeDasharray="3 5"
            label={<PriceBadge name="JPINTR" value="0,75" bg={BLUE} fg="#fff" nameW={100} valueW={79} gap={19} />} />
        </LineChart>
      </div>

      {/* bottom right pane */}
      <div style={{ position: "absolute", left: 1826, top: 880 }}>
        <LineChart width={1572} height={816} margin={{ top: 0, right: 0, bottom: 0, left: 0 }}>
          <CartesianGrid stroke={GRID} strokeWidth={2} />
          <XAxis dataKey="x" type="number" domain={[2018.76, 2027.13]} allowDataOverflow ticks={cpiTickYears} interval={0}
            height={56} axisLine={false} tickLine={false} tickSize={0} tickMargin={0}
            tick={(p: any) => <TimeTick {...p} labelOf={yearLabel} />} />
          <YAxis orientation="right" type="number" domain={[-1.332, 4.918]} allowDataOverflow ticks={cpiAxisTicks}
            interval={0} width={102} axisLine={false} tickLine={false} tickSize={0} tickMargin={19}
            tick={(p: any) => <PriceTick {...p} fmt={fmtCpi} />} />
          <Line data={cpiRows} dataKey="v" type="linear" stroke={GREY} strokeWidth={4} dot={false} activeDot={false}
            strokeLinejoin="round" isAnimationActive={false} />
          <ReferenceLine y={1.4} stroke={GREY} strokeWidth={2} strokeDasharray="2 6"
            label={<PriceBadge name="JPIRYY" value="1,4" bg={GREY} fg="#fff" nameW={98} valueW={64} gap={19} />} />
        </LineChart>
      </div>

      <Legend left={36} top={72} title="Rendimento titoli di stato Giappone 10 anni · 1W · TVC"
        values={["2,652%", "\u22120,003 (\u22120,11%)"]} color={BLUE} />
      <Legend left={1843} top={71} title="Japan Interest Rate · 1W · Central Bank" values={["0,75", "0 (0,00%)"]} color={BLUE} />
      <Legend left={1843} top={898} title="Japan Inflation Rate YoY · 1W · Ministry of Internal Affairs and Communications"
        values={["1,4", "\u22120,1 (\u22126,67%)"]} color={GREY} />

      <UnitBox left={1679} top={62} width={124} height={52} />
      <UnitBox left={3303} top={62} width={88} height={52} />
      <UnitBox left={3303} top={888} width={88} height={52} />

      <div style={{ position: "absolute", left: 22, top: 1736, display: "flex", alignItems: "center" }}>
        <svg width={58} height={34} viewBox="0 0 36 28" preserveAspectRatio="none">
          <path d="M14 22H7V11H0V4h14v18z" fill={TEXT} />
          <circle cx="20" cy="8" r="4" fill={TEXT} />
          <path d="M28 22h-8l7.5-18h8L28 22z" fill={TEXT} />
        </svg>
        <span style={{ marginLeft: 16, fontFamily: FONT, fontWeight: 700, fontSize: 40, letterSpacing: -0.5, color: TEXT, lineHeight: "44px" }}>
          TradingView
        </span>
      </div>
    </div>
  );
}
